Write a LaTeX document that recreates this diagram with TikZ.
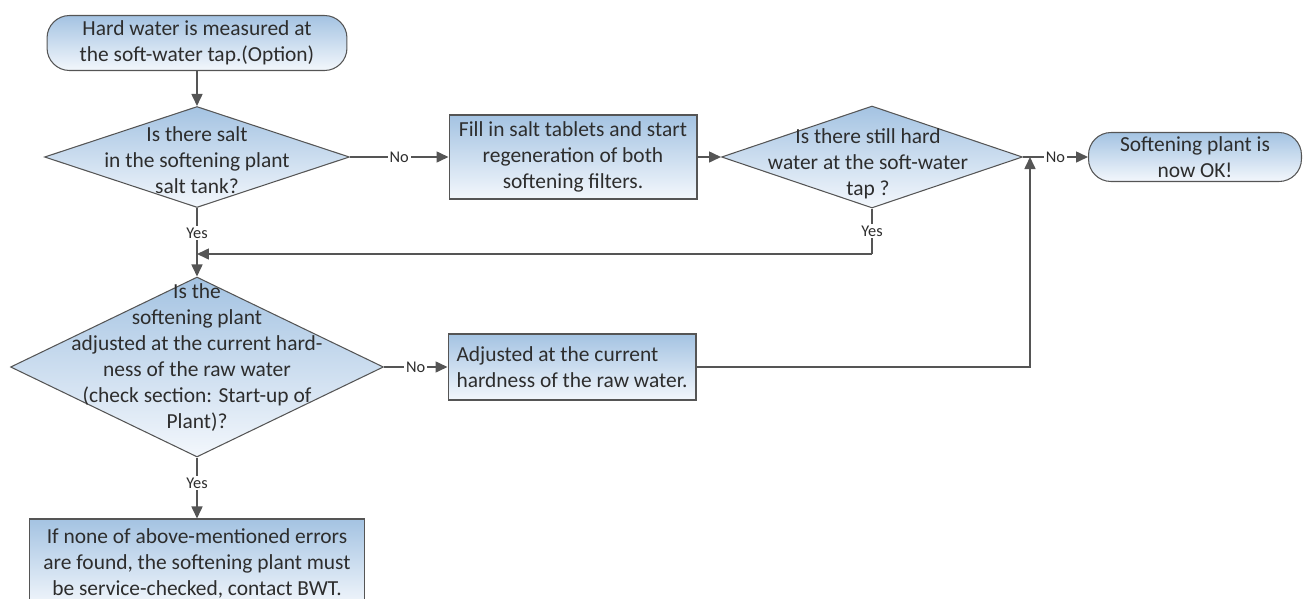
\documentclass[tikz,border=0pt]{standalone}
\usepackage{fontspec}
\setmainfont{Carlito}
\usetikzlibrary{shapes.geometric,arrows.meta}

\definecolor{boxtop}{RGB}{164,195,226}
\definecolor{boxbot}{RGB}{243,247,252}
\definecolor{edge}{RGB}{85,85,85}
\definecolor{ink}{RGB}{45,45,45}

\tikzset{
  flowtext/.style={font=\fontsize{12.2}{14.8}\selectfont, text=ink},
  termbox/.style={draw=edge, line width=0.6pt, rounded corners=0.45cm, top color=boxtop, bottom color=boxbot, flowtext, align=center, inner sep=0pt},
  procbox/.style={draw=edge, line width=0.6pt, top color=boxtop, bottom color=boxbot, flowtext, inner sep=0pt},
  decision/.style={diamond, draw=edge, line width=0.6pt, top color=boxtop, bottom color=boxbot, inner sep=0pt},
  qtext/.style={flowtext, align=center, inner sep=0pt},
  link/.style={draw=edge, line width=0.9pt, -{Triangle[length=0.24cm,width=0.22cm]}},
  joinline/.style={draw=edge, line width=0.9pt},
  answer/.style={font=\fontsize{9.3}{11}\selectfont, text=ink, fill=white, inner sep=1pt}
}

\begin{document}
\begin{tikzpicture}[x=0.02cm, y=-0.02cm]
\useasboundingbox (0,0) rectangle (1303,599);
\clip (0,0) rectangle (1303,599);

%left column
\node[termbox, minimum width=6cm, minimum height=1.1cm] (start) at (197,43) {Hard water is measured at\\the soft-water tap.(Option)};
\node[decision, minimum width=6.1cm, minimum height=2.02cm] (salt) at (197,157) {};
\node[qtext] (salttext) at ([yshift=-0.06cm]salt.center) {Is there salt\\in the softening plant\\salt tank?};
\node[decision, minimum width=7.46cm, minimum height=3.6cm] (adjust) at (197,367) {};
\node[qtext] (adjusttext) at ([yshift=0.18cm]adjust.center) {Is the\\softening plant\\adjusted at the current hard-\\ness of the raw water\\(check section: Start-up of\\Plant)?};
\node[procbox, align=center, minimum width=6.7cm, minimum height=1.76cm] (service) at (197,563) {If none of above-mentioned errors\\are found, the softening plant must\\be service-checked, contact BWT.};

%middle and right
\node[procbox, align=center, minimum width=4.96cm, minimum height=1.68cm] (refill) at (573,157) {Fill in salt tablets and start\\regeneration of both\\softening filters.};
\node[procbox, align=left, minimum width=4.96cm, minimum height=1.32cm] (setadj) at (572,367) {Adjusted at the current\\hardness of the raw water.};
\node[decision, minimum width=6.02cm, minimum height=2.04cm] (still) at (872,157) {};
\node[qtext] (stilltext) at ([xshift=-0.08cm,yshift=-0.14cm]still.center) {Is there still hard\\water at the soft-water\\tap ?};
\node[termbox, minimum width=4.26cm, minimum height=0.98cm] (done) at (1195,157) {Softening plant is\\now OK!};

%bend points
\coordinate (okjoin) at (1030,157);
\coordinate (backturn) at (872,254);
\coordinate (backin) at (197,254);

%connectors
\draw[link] (start) -- (salt);
\draw[link] (salt) -- node[answer]{No} (refill);
\draw[link] (refill) -- (still);
\draw[link] (still) -- node[answer]{No} (done);
\draw[joinline] (still.south) -- node[answer]{Yes} (backturn);
\draw[link] (backturn) -- (backin);
\draw[link] (salt) -- node[answer, pos=0.37]{Yes} (adjust);
\draw[link] (adjust) -- node[answer]{No} (setadj);
\draw[link] (setadj) -| (okjoin);
\draw[link] (adjust) -- node[answer, pos=0.42]{Yes} (service);

\end{tikzpicture}
\end{document}
